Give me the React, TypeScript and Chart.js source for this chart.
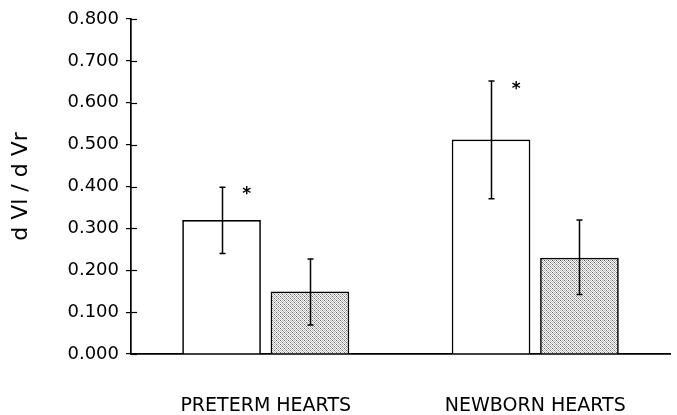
import React, { useEffect, useRef } from "react";
import { Chart, registerables } from "chart.js";

Chart.register(...registerables);

const categories = ["PRETERM HEARTS", "NEWBORN HEARTS"];
const openValues = [0.32, 0.512];
const openLow = [0.24, 0.371];
const openHigh = [0.398, 0.652];
const shadedValues = [0.149, 0.23];
const shadedLow = [0.069, 0.142];
const shadedHigh = [0.227, 0.32];
const starValues = [0.39, 0.642];
const yTicks = [0, 0.1, 0.2, 0.3, 0.4, 0.5, 0.6, 0.7, 0.8];
const yTitle = "d Vl / d Vr";

function makePattern(): CanvasPattern | string {
  const c = document.createElement("canvas");
  c.width = 4;
  c.height = 4;
  const ctx = c.getContext("2d");
  if (!ctx) return "#c8c8c8";
  ctx.fillStyle = "#ffffff";
  ctx.fillRect(0, 0, 4, 4);
  const dots: [number, number, string][] = [
    [0, 0, "#666"], [2, 0, "#b0b0b0"], [1, 1, "#aaa"], [3, 1, "#c0c0c0"],
    [0, 2, "#b8b8b8"], [2, 2, "#6a6a6a"], [1, 3, "#c0c0c0"], [3, 3, "#a8a8a8"],
  ];
  for (const [x, y, col] of dots) {
    ctx.fillStyle = col;
    ctx.fillRect(x, y, 1, 1);
  }
  const p = ctx.createPattern(c, "repeat");
  return p || "#c8c8c8";
}

const errorPlugin = {
  id: "errorBars",
  afterDatasetsDraw(chart: any) {
    const ctx = chart.ctx;
    const y = chart.scales.y;
    const sets = [
      { lo: openLow, hi: openHigh },
      { lo: shadedLow, hi: shadedHigh },
    ];
    ctx.save();
    ctx.strokeStyle = "#000";
    ctx.lineWidth = 1.5;
    sets.forEach((s, di) => {
      const meta = chart.getDatasetMeta(di);
      meta.data.forEach((bar: any, i: number) => {
        const x = Math.round(bar.x) + 0.5;
        const y1 = y.getPixelForValue(s.lo[i]);
        const y2 = y.getPixelForValue(s.hi[i]);
        ctx.beginPath();
        ctx.moveTo(x, y1);
        ctx.lineTo(x, y2);
        ctx.moveTo(x - 3, y1);
        ctx.lineTo(x + 3, y1);
        ctx.moveTo(x - 3, y2);
        ctx.lineTo(x + 3, y2);
        ctx.stroke();
      });
    });
    const meta0 = chart.getDatasetMeta(0);
    ctx.fillStyle = "#000";
    ctx.font = "bold 17px 'DejaVu Sans'";
    ctx.textAlign = "center";
    ctx.textBaseline = "middle";
    meta0.data.forEach((bar: any, i: number) => {
      const x = bar.x + bar.width * 0.32;
      const yy = y.getPixelForValue(starValues[i]);
      ctx.fillText("*", x, yy + 4);
    });
    const xa = chart.scales.x;
    ctx.lineWidth = 1.2;
    yTicks.forEach((v) => {
      const py = Math.round(y.getPixelForValue(v)) + 0.5;
      ctx.beginPath();
      ctx.moveTo(xa.left, py);
      ctx.lineTo(xa.left + 6, py);
      ctx.stroke();
    });
    ctx.restore();
  },
};

export default function App() {
  const ref = useRef<HTMLCanvasElement>(null);
  useEffect(() => {
    if (!ref.current) return;
    Chart.defaults.font.family = "'DejaVu Sans'";
    Chart.defaults.color = "#000";
    const chart = new Chart(ref.current, {
      type: "bar",
      data: {
        labels: categories,
        datasets: [
          {
            data: openValues,
            backgroundColor: "#ffffff",
            borderColor: "#000",
            borderWidth: 1.7,
            categoryPercentage: 0.656,
            barPercentage: 0.89,
          },
          {
            data: shadedValues,
            backgroundColor: makePattern() as any,
            borderColor: "#000",
            borderWidth: 1.7,
            categoryPercentage: 0.656,
            barPercentage: 0.89,
          },
        ],
      },
      options: {
        animation: false,
        responsive: false,
        layout: { padding: { top: 19, right: 7, left: 0, bottom: 0 } },
        plugins: { legend: { display: false }, tooltip: { enabled: false } },
        scales: {
          x: {
            grid: { display: false, drawTicks: false },
            border: { display: true, color: "#000", width: 1.7 },
            ticks: { padding: 41, font: { size: 19 }, color: "#000" },
            afterFit: (s: any) => {
              s.height = 61;
            },
          },
          y: {
            min: 0,
            max: 0.8,
            afterBuildTicks: (s: any) => {
              s.ticks = yTicks.map((v) => ({ value: v }));
            },
            grid: { display: true, drawOnChartArea: false, tickLength: 5, color: "#000", lineWidth: 1.2 },
            border: { display: true, color: "#000", width: 1.7 },
            ticks: {
              padding: 7,
              font: { size: 18 },
              color: "#000",
              callback: (v: any) => Number(v).toFixed(3),
            },
            title: {
              display: true,
              text: yTitle,
              font: { size: 22 },
              color: "#000",
              padding: { top: 8, bottom: 0 },
            },
            afterFit: (s: any) => {
              s.width = 131;
            },
          },
        },
      },
      plugins: [errorPlugin],
    });
    return () => chart.destroy();
  }, []);
  return (
    <div style={{ position: "fixed", left: 0, top: 0, width: 677, height: 415, background: "#fff" }}>
      <canvas ref={ref} width={677} height={415} />
    </div>
  );
}
